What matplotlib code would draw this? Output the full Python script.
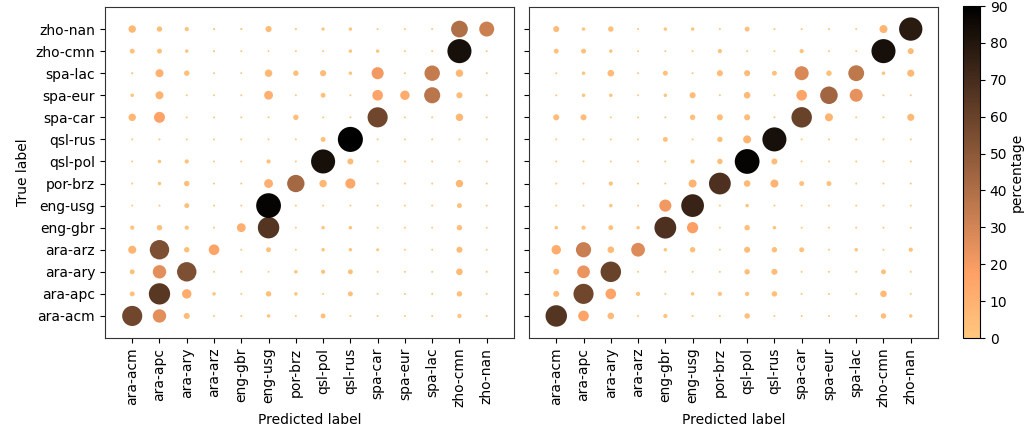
import matplotlib
matplotlib.use('Agg')
import matplotlib.pyplot as plt
import numpy as np

# labels (same for true and predicted)
labels = ['ara-acm', 'ara-apc', 'ara-ary', 'ara-arz', 'eng-gbr', 'eng-usg', 'por-brz',
          'qsl-pol', 'qsl-rus', 'spa-car', 'spa-eur', 'spa-lac', 'zho-cmn', 'zho-nan']

# percentages, one row per true label (ara-acm first), columns = predicted label
left_vals = [
    [58.0, 25.6, 5.0, 0.3, 0.3, 1.5, 0.3, 3.2, 0.3, 0.3, 0.3, 0.3, 2.3, 0.3],   # ara-acm
    [3.2, 65.0, 12.5, 1.5, 0.3, 4.0, 1.5, 0.3, 3.2, 0.3, 0.3, 0.3, 4.0, 0.3],   # ara-apc
    [3.2, 25.6, 54.0, 0.3, 0.3, 0.2, 1.5, 2.3, 3.2, 0.3, 0.3, 0.3, 6.0, 0.3],   # ara-ary
    [9.0, 54.0, 4.0, 16.0, 0.3, 3.2, 0.3, 1.5, 1.5, 1.0, 0.3, 0.3, 5.0, 0.3],   # ara-arz
    [2.3, 4.0, 2.3, 0.3, 11.0, 66.0, 0.3, 1.5, 1.5, 0.3, 0.3, 0.3, 4.0, 0.3],   # eng-gbr
    [0.3, 0.3, 3.2, 0.3, 0.3, 88.0, 0.3, 0.3, 0.3, 0.3, 0.3, 0.3, 3.2, 0.3],   # eng-usg
    [0.3, 1.5, 4.0, 0.3, 0.3, 11.0, 43.0, 7.7, 14.4, 0.3, 0.3, 0.3, 7.7, 0.3], # por-brz
    [0.3, 1.5, 2.3, 0.3, 0.3, 2.3, 0.3, 83.0, 5.0, 0.3, 0.3, 0.3, 0.3, 0.3],   # qsl-pol
    [0.3, 0.3, 0.3, 0.3, 0.3, 0.3, 0.3, 3.2, 90.0, 0.3, 0.3, 0.3, 0.3, 0.3],   # qsl-rus
    [7.7, 17.0, 0.3, 0.3, 0.3, 0.3, 4.0, 0.3, 0.3, 58.0, 0.3, 0.3, 7.7, 0.3],  # spa-car
    [1.5, 9.0, 0.3, 0.3, 0.3, 11.0, 0.3, 3.2, 0.3, 16.0, 12.5, 37.0, 5.2, 0.3], # spa-eur
    [0.4, 9.2, 4.0, 0.3, 0.3, 7.7, 4.0, 5.2, 1.5, 20.7, 0.3, 34.0, 7.7, 0.3],  # spa-lac
    [3.2, 3.2, 1.5, 0.4, 0.3, 0.2, 0.3, 0.3, 1.5, 1.5, 0.3, 0.3, 83.0, 0.3],   # zho-cmn
    [7.7, 4.0, 2.3, 0.4, 0.4, 5.2, 0.4, 1.3, 1.5, 0.3, 0.3, 0.3, 40.0, 32.0],  # zho-nan
]

right_vals = [
    [66.0, 16.0, 6.0, 0.3, 2.3, 0.3, 0.3, 4.0, 0.3, 0.3, 0.3, 0.3, 4.0, 1.5],  # ara-acm
    [5.0, 58.0, 16.0, 2.3, 0.3, 1.5, 2.3, 2.3, 4.0, 0.3, 0.3, 0.3, 6.0, 0.3],  # ara-apc
    [5.0, 23.0, 60.0, 0.3, 0.3, 0.3, 0.3, 4.0, 5.0, 0.3, 0.3, 0.3, 3.2, 0.3],  # ara-ary
    [12.5, 33.0, 6.0, 27.0, 1.5, 4.0, 0.3, 5.0, 4.0, 3.2, 0.3, 1.5, 0.3, 2.3], # ara-arz
    [1.5, 2.3, 3.2, 1.5, 68.0, 18.0, 0.3, 4.0, 1.5, 0.3, 0.3, 0.3, 0.3, 0.3],  # eng-gbr
    [0.3, 0.3, 1.5, 0.3, 21.0, 74.0, 0.3, 1.5, 0.3, 0.3, 0.3, 0.3, 0.3, 0.3],  # eng-usg
    [0.3, 0.3, 2.3, 0.3, 0.3, 9.0, 68.0, 6.0, 9.0, 3.2, 3.2, 0.3, 0.3, 0.3],   # por-brz
    [0.3, 0.3, 0.3, 0.3, 0.3, 2.3, 4.0, 88.0, 5.0, 0.3, 0.3, 0.3, 0.3, 0.3],   # qsl-pol
    [0.3, 0.3, 0.3, 0.3, 3.2, 0.3, 4.0, 9.0, 83.0, 0.3, 0.3, 0.3, 0.3, 0.3],   # qsl-rus
    [5.0, 5.0, 0.3, 0.3, 0.3, 4.0, 5.0, 5.0, 0.3, 60.0, 9.0, 0.3, 0.3, 7.0],   # spa-car
    [0.3, 1.5, 1.5, 0.3, 1.5, 5.0, 0.3, 6.0, 0.3, 16.0, 44.0, 24.0, 0.3, 0.3], # spa-eur
    [0.3, 1.5, 6.0, 0.3, 3.2, 0.3, 5.0, 5.0, 3.2, 28.0, 4.0, 36.0, 1.5, 7.0],  # spa-lac
    [3.2, 3.2, 1.5, 0.3, 0.3, 0.3, 2.3, 0.3, 0.3, 2.3, 0.3, 0.3, 83.0, 5.0],   # zho-cmn
    [5.0, 1.5, 4.0, 0.3, 1.5, 1.5, 0.3, 3.2, 0.3, 0.3, 0.3, 0.3, 9.0, 78.0],   # zho-nan
]

VMAX = 90
SCALE = 3.6  # marker area (pt^2) per percent

fig = plt.figure(figsize=(10.35, 4.4), dpi=100)
ax1 = fig.add_axes([0.1014, 0.2318, 0.3952, 0.7523])
ax2 = fig.add_axes([0.5111, 0.2318, 0.3952, 0.7523])
cax = fig.add_axes([0.9304, 0.2318, 0.0164, 0.7545])

n = len(labels)
xx, yy = np.meshgrid(np.arange(n), np.arange(n))

for ax, vals in [(ax1, left_vals), (ax2, right_vals)]:
    v = np.array(vals)
    sc = ax.scatter(xx.ravel(), yy.ravel(), s=SCALE*v.ravel() + 1.0, c=v.ravel(),
                    cmap='copper_r', vmin=0, vmax=VMAX, linewidths=0)
    ax.set_xlim(-1, n)
    ax.set_ylim(-1, n)
    ax.set_xticks(range(n))
    ax.set_xticklabels(labels, rotation=90, fontsize=10)
    ax.set_yticks(range(n))
    ax.set_xlabel('Predicted label', fontsize=10)
    for sp in ax.spines.values():
        sp.set_color('#333333')

ax1.set_yticklabels(labels, fontsize=10)
ax1.set_ylabel('True label', fontsize=10)
ax2.set_yticklabels([])

cb = fig.colorbar(sc, cax=cax)
cb.set_ticks(range(0, 91, 10))
cb.ax.tick_params(labelsize=10)
cb.set_label('percentage', fontsize=10, labelpad=2)

fig.savefig('out.png', dpi=100)
